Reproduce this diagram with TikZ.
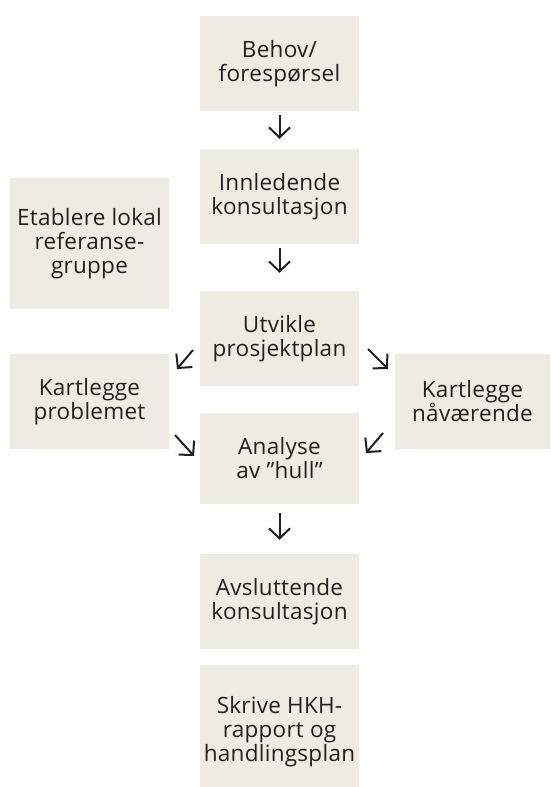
\documentclass[tikz,border=0pt]{standalone}
\usepackage{fontspec}
\setmainfont{Open Sans}[LetterSpace=1.2]
\usetikzlibrary{arrows.meta}
\definecolor{boxfill}{HTML}{EDECE2}
\definecolor{ink}{HTML}{231F20}
\tikzset{
  boxfont/.style={font=\fontsize{22.5}{24}\selectfont},
  box/.style={fill=boxfill, draw=none, inner sep=0pt, align=center, text=ink,
    boxfont, minimum width=159pt, minimum height=95pt},
  arr/.style={draw=ink, line width=2pt, -{Straight Barb[length=10pt,width=21pt,line width=2pt]}}
}
\begin{document}
\begin{tikzpicture}[x=1pt,y=-1pt]
\useasboundingbox (0,0) rectangle (550,787);
\node[box] (b1) at (279.5,63.5) {Behov/\\forespørsel};
\node[box] (b2) at (279.5,196.5) {Innledende\\konsultasjon};
\node[box] (b3) at (279.5,338.5) {Utvikle\\prosjektplan};
\node[box, minimum height=91pt] (b4) at (279.5,458.5) {Analyse\\av ”hull”};
\node[box] (b5) at (279.5,601.5) {Avsluttende\\konsultasjon};
\node[box, minimum height=122pt] (b6) at (279.5,726) {};
\node[text=ink, boxfont, align=center, inner sep=0pt] (t6) at (279.5,732) {Skrive HKH-\\rapport og\\handlingsplan};
\node[box, minimum height=131pt] (l1) at (89.5,243.5) {Etablere lokal\\referanse-\\gruppe};
\node[box] (l2) at (89.5,401.5) {Kartlegge\\problemet};
\node[box, minimum width=155pt] (r1) at (472.5,401.5) {Kartlegge\\nåværende};
% vertical arrows
\draw[arr, shorten <=4pt, shorten >=10pt] (b1.south) -- (b2.north);
\draw[arr, shorten <=4pt, shorten >=18pt] (b2.south) -- (b3.north);
\draw[arr, shorten <=9pt, shorten >=14pt] (b4.south) -- (b5.north);
% diagonal arrows
\coordinate (d1s) at (193,350); \coordinate (d1e) at (177,369);
\coordinate (d2s) at (368,349); \coordinate (d2e) at (388,369);
\coordinate (d3s) at (175,435); \coordinate (d3e) at (194,456);
\coordinate (d4s) at (383,433); \coordinate (d4e) at (366,453);
\draw[arr] (d1s) -- (d1e);
\draw[arr] (d2s) -- (d2e);
\draw[arr] (d3s) -- (d3e);
\draw[arr] (d4s) -- (d4e);
\end{tikzpicture}
\end{document}
